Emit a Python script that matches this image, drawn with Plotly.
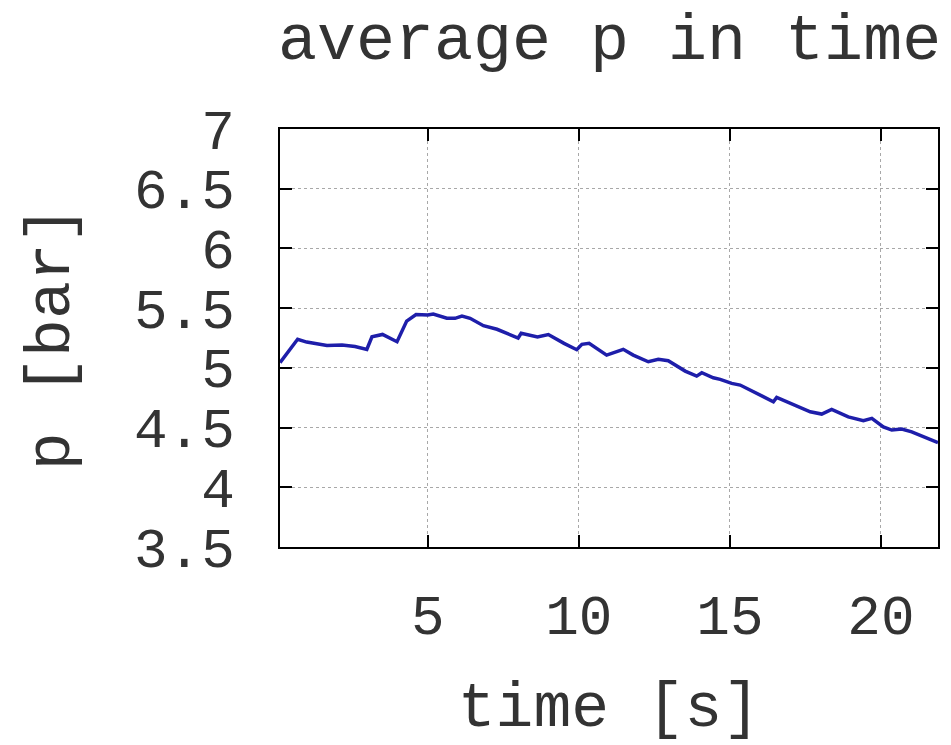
import plotly.graph_objects as go

# time [s] and averaged pressure [bar]
time_s = [0.106, 0.69, 0.99, 1.66, 2.16, 2.59, 2.98, 3.15, 3.5, 3.98, 4.3, 4.61,
          5.0, 5.18, 5.63, 5.9, 6.13, 6.4, 6.84, 7.29, 7.99, 8.09, 8.63, 8.99,
          9.51, 9.93, 10.1, 10.34, 10.92, 11.14, 11.47, 11.8, 12.3, 12.63, 12.96,
          13.52, 13.9, 14.07, 14.45, 14.68, 15.06, 15.34, 15.89, 16.44, 16.55,
          17.05, 17.66, 18.04, 18.37, 18.92, 19.42, 19.7, 20.08, 20.36, 20.69,
          21.02, 21.46, 21.89]
pressure_bar = [5.044, 5.239, 5.216, 5.187, 5.191, 5.178, 5.155, 5.26, 5.28, 5.219,
                5.392, 5.447, 5.443, 5.451, 5.415, 5.415, 5.434, 5.415, 5.353, 5.323,
                5.25, 5.289, 5.258, 5.279, 5.205, 5.152, 5.197, 5.205, 5.107, 5.127,
                5.155, 5.107, 5.051, 5.071, 5.06, 4.973, 4.931, 4.959, 4.917, 4.904,
                4.87, 4.856, 4.786, 4.716, 4.753, 4.702, 4.632, 4.613, 4.652, 4.59,
                4.557, 4.577, 4.506, 4.479, 4.487, 4.464, 4.422, 4.374]

x_ticks = [5, 10, 15, 20]
y_ticks = [3.5, 4, 4.5, 5, 5.5, 6, 6.5, 7]
y_tick_text = ["3.5", "4", "4.5", "5", "5.5", "6", "6.5", "7"]

FONT = "Liberation Mono, Courier New, monospace"
TEXT_COLOR = "#333333"
TICK_FS = 56
TITLE_FS = 63

fig = go.Figure()
fig.add_trace(go.Scatter(
    x=time_s, y=pressure_bar, mode="lines",
    line=dict(color="#1e1eaa", width=3.5),
    showlegend=False,
))

axis_common = dict(
    showline=True, linecolor="black", linewidth=2,
    mirror="ticks", ticks="inside", ticklen=12, tickwidth=1.5, tickcolor="black",
    showgrid=True, gridcolor="#a8a8a8", griddash="dot", gridwidth=1,
    zeroline=False,
    tickfont=dict(family=FONT, size=TICK_FS, color=TEXT_COLOR),
)

fig.update_xaxes(
    range=[0.106, 21.89], tickvals=x_ticks, ticktext=[str(v) for v in x_ticks],
    ticklabelstandoff=18,
    title=dict(text="time [s]", font=dict(family=FONT, size=TITLE_FS, color=TEXT_COLOR),
               standoff=38),
    **axis_common,
)
fig.update_yaxes(
    range=[3.5, 7], tickvals=y_ticks, ticktext=y_tick_text,
    ticklabelstandoff=32,
    title=dict(text="p [bar]", font=dict(family=FONT, size=TITLE_FS, color=TEXT_COLOR),
               standoff=44),
    **axis_common,
)

fig.update_layout(
    width=951, height=745,
    margin=dict(l=280, r=13, t=129, b=198),
    paper_bgcolor="white", plot_bgcolor="white",
    title=dict(text="average p in time", x=0.641, xanchor="center",
               y=0.952, yanchor="middle", yref="container",
               font=dict(family=FONT, size=65, color=TEXT_COLOR)),
)

fig.write_html("out.html")
